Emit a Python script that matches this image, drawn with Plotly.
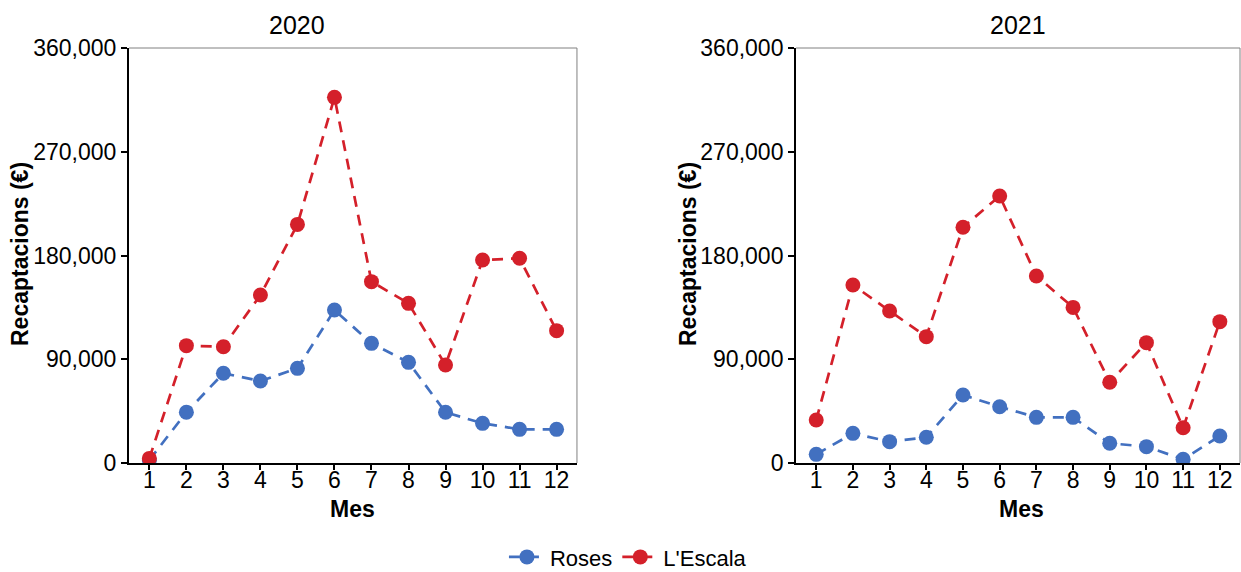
import plotly.graph_objects as go
from plotly.subplots import make_subplots

months = list(range(1, 13))
years = ["2020", "2021"]
roses_2020 = [2600, 44000, 77800, 71100, 82100, 132700, 103800, 87300, 44000, 34400, 29200, 29200]
escala_2020 = [4000, 101800, 100900, 145700, 207000, 317200, 157300, 138500, 85000, 176100, 177600, 114800]
roses_2021 = [7500, 25700, 18500, 22300, 59000, 48800, 39600, 39600, 17100, 14200, 3200, 23400]
escala_2021 = [37300, 154400, 131900, 109600, 204500, 231600, 162200, 135000, 70000, 104400, 30600, 122600]
y_ticks = [0, 90000, 180000, 270000, 360000]
y_tick_labels = ["0", "90,000", "180,000", "270,000", "360,000"]

BLUE = "#4270C0"
RED = "#D4202A"
FONT = "Liberation Sans, Arial, sans-serif"

fig = make_subplots(rows=1, cols=2)

data = [(roses_2020, escala_2020), (roses_2021, escala_2021)]
for i, (roses, escala) in enumerate(data):
    col = i + 1
    for name, vals, color in [("Roses", roses, BLUE), ("L'Escala", escala, RED)]:
        fig.add_trace(go.Scatter(
            x=months, y=vals, name=name, mode="lines+markers",
            line=dict(color=color, width=2.7, dash="11px,8px"),
            marker=dict(color=color, size=15),
            showlegend=(i == 0), legendgroup=name,
        ), row=1, col=col)

fig.update_layout(
    width=1241, height=572,
    paper_bgcolor="white", plot_bgcolor="white",
    margin=dict(l=129, r=1, t=48, b=109, pad=0, autoexpand=False),
    font=dict(family=FONT, size=23, color="black"),
    showlegend=True,
    legend=dict(orientation="h", x=0.506, xref="container", xanchor="center",
                y=0.026, yref="container", yanchor="middle",
                font=dict(size=22), itemwidth=36, tracegroupgap=0),
    xaxis=dict(domain=[0.0, 0.4032]),
    xaxis2=dict(domain=[0.6004, 1.0]),
    yaxis=dict(domain=[0.0, 1.0]),
    yaxis2=dict(domain=[0.0, 1.0]),
)

for ax in ["xaxis", "xaxis2"]:
    fig.layout[ax].update(
        range=[0.45, 12.55], tickvals=months, ticktext=[str(m) for m in months],
        showline=True, linecolor="black", linewidth=2, ticks="outside", ticklen=5,
        tickwidth=1.5, tickcolor="black", showgrid=False, zeroline=False,
        tickfont=dict(size=23, color="black"), automargin=False,
        ticklabelstandoff=-10,
    )
for ax in ["yaxis", "yaxis2"]:
    fig.layout[ax].update(
        range=[0, 360000], tickvals=y_ticks, ticktext=y_tick_labels,
        showline=True, linecolor="black", linewidth=2, ticks="outside", ticklen=6,
        tickwidth=1.5, tickcolor="black", showgrid=False, zeroline=False,
        tickfont=dict(size=23, color="black"), automargin=False,
    )

# thin grey top/right panel border
for xr, yr in [("x domain", "y domain"), ("x2 domain", "y2 domain")]:
    fig.add_shape(type="line", xref=xr, yref=yr, x0=0, x1=1, y0=1, y1=1,
                  line=dict(color="#808080", width=1))
    fig.add_shape(type="line", xref=xr, yref=yr, x0=1, x1=1, y0=0, y1=1,
                  line=dict(color="#808080", width=1))

# panel titles and axis titles (positions as fractions of the plot area)
for label, cx in zip(years, [297, 1018]):
    fig.add_annotation(text=label, xref="paper", yref="paper",
                       x=(cx - 129) / 1111.0, y=(463 - 25) / 415.0,
                       xanchor="center", yanchor="middle", showarrow=False,
                       font=dict(size=25, family=FONT, color="black"))
for cx in [352, 1021]:
    fig.add_annotation(text="<b>Mes</b>", xref="paper", yref="paper",
                       x=(cx - 129) / 1111.0, y=(463 - 509) / 415.0,
                       xanchor="center", yanchor="middle", showarrow=False,
                       borderpad=0,
                       font=dict(size=23, family=FONT, color="black"))
for cx in [20, 688]:
    fig.add_annotation(text="<b>Recaptacions (€)</b>", xref="paper", yref="paper",
                       x=(cx - 129) / 1111.0, y=(463 - 254) / 415.0, textangle=-90,
                       xanchor="center", yanchor="middle", showarrow=False,
                       font=dict(size=23, family=FONT, color="black"))

fig.write_html(
    "out.html",
    config={"displayModeBar": False},
    post_script="document.body.style.margin='0';document.body.style.overflow='hidden';",
)
